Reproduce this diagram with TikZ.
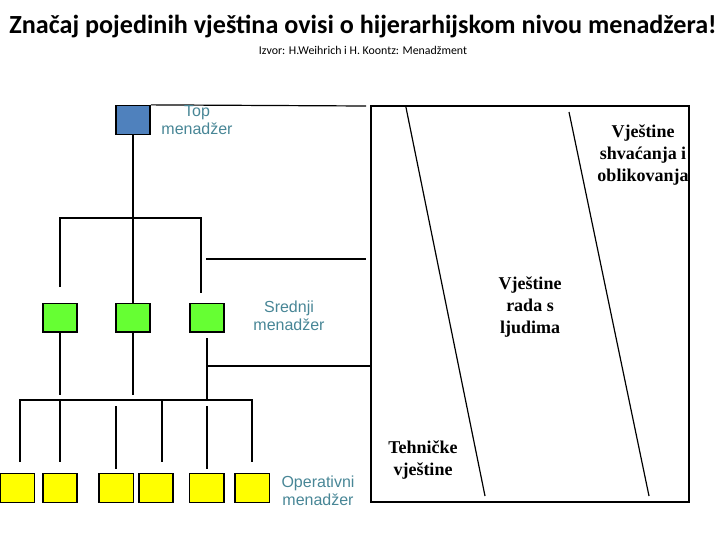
\documentclass[tikz,border=0pt]{standalone}
\usepackage{fontspec}
\setmainfont{Liberation Serif}
\setsansfont{Liberation Sans}
\newfontfamily\titlefont{Carlito}
\usetikzlibrary{positioning}
\definecolor{topblue}{RGB}{79,129,189}
\definecolor{midgreen}{RGB}{102,255,51}
\definecolor{opyellow}{RGB}{255,255,0}
\definecolor{levelteal}{RGB}{72,134,150}

\tikzset{
	mgr/.style={draw=black, line width=1.1pt, minimum width=25.8pt, minimum height=21.6pt, inner sep=0pt},
	level/.style={text=levelteal, font=\sffamily\fontsize{12}{13.5}\selectfont, align=center},
	skill/.style={font=\bfseries\fontsize{13.5}{16.3}\selectfont, align=center},
	wire/.style={line width=0.9pt}
}

\begin{document}
\begin{tikzpicture}[x=0.75pt, y=-0.75pt, line cap=butt, line join=miter]
	\useasboundingbox (0,0) rectangle (720,540);

	% title and source
	\node[font=\titlefont\bfseries\fontsize{19.6}{22}\selectfont] (title) at (363,27) {Značaj pojedinih vještina ovisi o hijerarhijskom nivou menadžera!};
	\node[font=\titlefont\fontsize{8.9}{10}\selectfont] (source) at (363,50) {Izvor: H.Weihrich i H. Koontz: Menadžment};

	% managers on three levels
	\node[mgr, fill=topblue] (top) at (133,120) {};
	\foreach \n/\x in {1/60, 2/133, 3/207}
		\node[mgr, fill=midgreen] (mid\n) at (\x,317.7) {};
	\foreach \n/\x in {1/17.5, 2/60, 3/116.2, 4/156, 5/206.9, 6/252.2}
		\node[mgr, fill=opyellow] (op\n) at (\x,488) {};

	% branch points of the tree
	\coordinate (tr) at (366,106);
	\coordinate (ub1) at (60,287);
	\coordinate (ub2) at (60,218);
	\coordinate (ub3) at (201,218);
	\coordinate (ub4) at (201,293);
	\coordinate (mb1) at (206,259);
	\coordinate (mb2) at (366,259);
	\coordinate (lb1) at (20,462);
	\coordinate (lb2) at (20,400);
	\coordinate (lb3) at (252,400);
	\coordinate (lb4) at (252,462);

	% upper part of the tree
	\draw[wire] (top.north east) -- (tr);
	\draw[wire] (top.south) -- (mid2.north);
	\draw[wire] (ub1) -- (ub2) -- (ub3) -- (ub4);
	\draw[wire] (mb1) -- (mb2);

	% lower part of the tree
	\draw[wire] (mid1.south) -- (60,395);
	\draw[wire] (mid2.south) -- (133,395);
	\draw[wire] (207,338) -- (207,400);
	\draw[wire] (lb1) -- (lb2) -- (lb3) -- (lb4);
	\draw[wire] (60,400) -- (60,462);
	\draw[wire] (162,400) -- (162,462);
	\draw[wire] (116,406) -- (116,469);
	\draw[wire] (207,406) -- (207,469);
	\draw[wire] (207,366) -- (371,366);

	% skills chart
	\coordinate (fa) at (371,106);
	\coordinate (fb) at (689,502);
	\draw[wire] (fa) rectangle (fb);
	\draw[wire] (405.7,106) -- (485,496);
	\draw[wire] (569,112) -- (649,496);

	% level labels
	\node[level] (toplbl) at (197,120) {Top\\menadžer};
	\node[level] (midlbl) at (289,316) {Srednji\\menadžer};
	\node[level] (oplbl) at (318,491) {Operativni\\menadžer};

	% skill labels
	\node[skill] (concept) at (643,155) {Vještine\\shvaćanja i\\oblikovanja};
	\node[skill] (human) at (530,307) {Vještine\\rada s\\ljudima};
	\node[skill] (tech) at (423,460) {Tehničke\\vještine};
\end{tikzpicture}
\end{document}
